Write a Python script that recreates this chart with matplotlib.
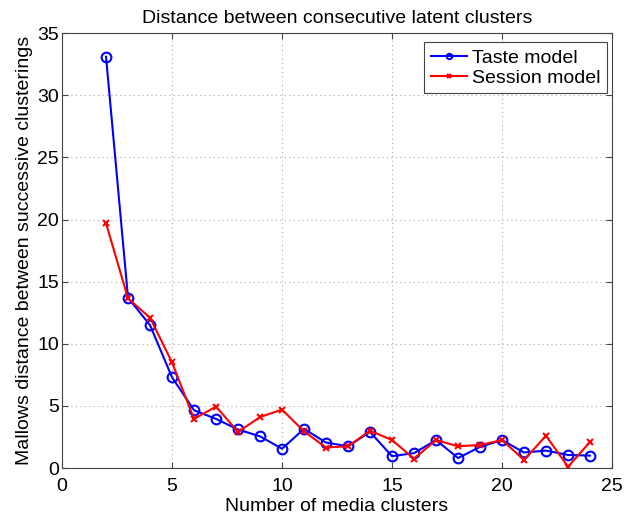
import matplotlib
matplotlib.use("Agg")
import matplotlib.pyplot as plt

plt.rcParams['font.family'] = ['Liberation Sans', 'DejaVu Sans']

clusters = list(range(2, 25))
taste_model = [33.1, 13.7, 11.5, 7.3, 4.65, 3.95, 3.1, 2.55, 1.55, 3.15, 2.05, 1.75,
               2.9, 0.95, 1.2, 2.25, 0.8, 1.7, 2.25, 1.25, 1.4, 1.05, 1.0]
session_model = [19.7, 13.65, 12.1, 8.5, 3.95, 4.95, 2.9, 4.1, 4.7, 2.95, 1.65, 1.75,
                 3.0, 2.25, 0.75, 2.25, 1.75, 1.85, 2.25, 0.65, 2.6, 0.1, 2.1]

fig = plt.figure(figsize=(6.24, 5.18), dpi=100)
ax = fig.add_axes([0.0994, 0.0965, 0.8814, 0.8395])

ax.plot(clusters, taste_model, color='#0000ff', lw=1.5, marker='o', ms=7,
        mfc='none', mec='#0000ff', mew=1.5, label='Taste model')
ax.plot(clusters, session_model, color='#ff0000', lw=1.5, marker='x', ms=5,
        mew=1.5, label='Session model')

ax.set_xlim(0, 25)
ax.set_ylim(0, 35)
ax.set_xticks(range(0, 26, 5))
ax.set_yticks(range(0, 36, 5))
ax.tick_params(direction='in', top=True, right=True, labelsize=14, length=4,
               color='#444444')
ax.tick_params(axis='x', pad=7)
ax.tick_params(axis='y', pad=2)
ax.grid(True, linestyle=(0, (1, 3)), color='#aaaaaa', lw=0.8)
for s in ax.spines.values():
    s.set_color('#444444')

ax.set_title('Distance between consecutive latent clusters', fontsize=14, pad=7)
ax.set_xlabel('Number of media clusters', fontsize=14, labelpad=2)
ax.set_ylabel('Mallows distance between successive clusterings', fontsize=14,
              labelpad=3)

leg = ax.legend(loc='upper right', bbox_to_anchor=(0.991, 0.979),
                fontsize=14, fancybox=False, framealpha=1,
                edgecolor='#444444', handlelength=1.85, borderpad=0.35,
                labelspacing=0.12, handletextpad=0.25, borderaxespad=0,
                markerscale=0.55)
leg.get_frame().set_linewidth(0.8)

fig.savefig('out.png', dpi=100)
